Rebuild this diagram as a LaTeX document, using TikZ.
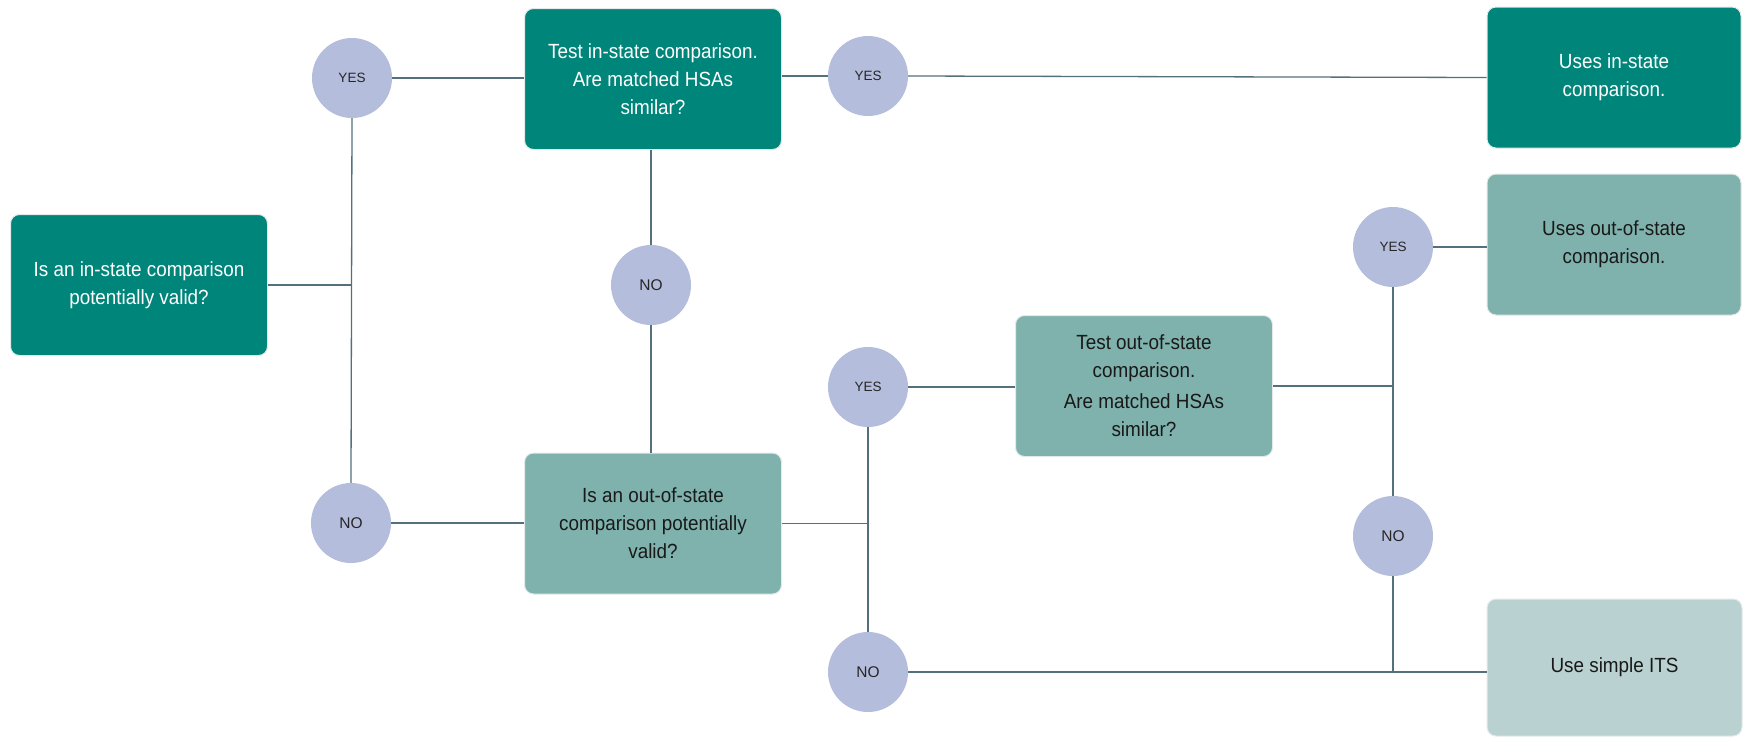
\documentclass[tikz,border=0pt]{standalone}
\usepackage{fontspec}
\setmainfont{Liberation Sans}
\newfontfamily\narrowfont[FakeStretch=0.92]{Liberation Sans}
\usetikzlibrary{calc}
\definecolor{tealdark}{HTML}{00857A}
\definecolor{tealmid}{HTML}{7FB2AD}
\definecolor{teallight}{HTML}{B9D1D0}
\definecolor{answerfill}{HTML}{B4BEDC}
\definecolor{linkgray}{HTML}{54707C}
\definecolor{boxedge}{HTML}{E4EAEA}
\tikzset{
  stepbox/.style={rectangle, rounded corners=9pt, draw=boxedge, line width=1pt,
    minimum width=257pt, minimum height=141pt, inner sep=0pt, align=center,
    font=\narrowfont\fontsize{20.5}{28}\selectfont},
  darkstep/.style={stepbox, fill=tealdark, text=white},
  midstep/.style={stepbox, fill=tealmid, text=black!90},
  lightstep/.style={stepbox, fill=teallight, text=black!90},
  answer/.style={circle, fill=answerfill, minimum size=80pt, inner sep=0pt,
    text=black!85, font=\fontsize{13.5}{16}\selectfont},
  noanswer/.style={answer, font=\fontsize{15.5}{18}\selectfont},
  link/.style={draw=linkgray, line width=1.3pt}
}

\begin{document}
\begin{tikzpicture}[x=1pt, y=-1pt]
		%%%%% START %%%%%
		
		\fill[white] (0, 0) rectangle (1743, 737);
		\useasboundingbox (0, 0) rectangle (1743, 737);
		
		\node[darkstep] (qIn) at (139, 285) {Is an in-state comparison\\potentially valid?};
		\node[darkstep] (testIn) at (653, 79) {Test in-state comparison.\\Are matched HSAs\\similar?};
		\node[darkstep, minimum width=254pt] (useIn) at (1614, 77.5) {Uses in-state\\comparison.};
		
		\node[midstep] (qOut) at (653, 523.5) {Is an out-of-state\\comparison potentially\\valid?};
		\node[midstep] (testOut) at (1144, 386) {Test out-of-state\\comparison.\\[3pt]Are matched HSAs\\similar?};
		\node[midstep, minimum width=254pt] (useOut) at (1614, 244.5) {Uses out-of-state\\comparison.};
		
		\node[lightstep, minimum width=255pt, minimum height=137pt] (its) at (1614.5, 667.5) {Use simple ITS};
		
		\node[answer] (yesA) at (352, 78) {YES};
		\node[noanswer] (noA) at (351, 523) {NO};
		\node[noanswer] (noB) at (651, 285) {NO};
		\node[answer] (yesB) at (868, 76) {YES};
		\node[answer] (yesC) at (868, 387) {YES};
		\node[noanswer] (noC) at (868, 672) {NO};
		\node[answer] (yesD) at (1393, 247) {YES};
		\node[noanswer] (noD) at (1393, 536) {NO};
		
		% in-state branch
		\draw[link] (qIn.east) -- (qIn.east -| yesA);
		\draw[link] (yesA.south) -- (noA.north);
		\draw[link] (yesA.east) -- (testIn.west |- yesA);
		\draw[link] (testIn.east |- yesB) -- (yesB.west);
		\draw[link] (yesB.east) -- (useIn.west);
		\draw[link] (testIn.south -| noB) -- (noB.north);
		\draw[link] (noB.south) -- (qOut.north -| noB);
		\draw[link] (noA.east) -- (qOut.west |- noA);
		
		% out-of-state branch
		\draw[link] (qOut.east) -- (qOut.east -| yesC);
		\draw[link] (yesC.south) -- (noC.north);
		\draw[link] (yesC.east) -- (testOut.west |- yesC);
		\draw[link] (noC.east) -- (its.west |- noC);
		\draw[link] (testOut.east) -- (testOut.east -| yesD);
		\draw[link] (yesD.south) -- (noD.north);
		\draw[link] (yesD.east) -- (useOut.west |- yesD);
		\draw[link] (noD.south) -- (noD.south |- noC);
		
		%%%%% END %%%%%
\end{tikzpicture}
\end{document}
